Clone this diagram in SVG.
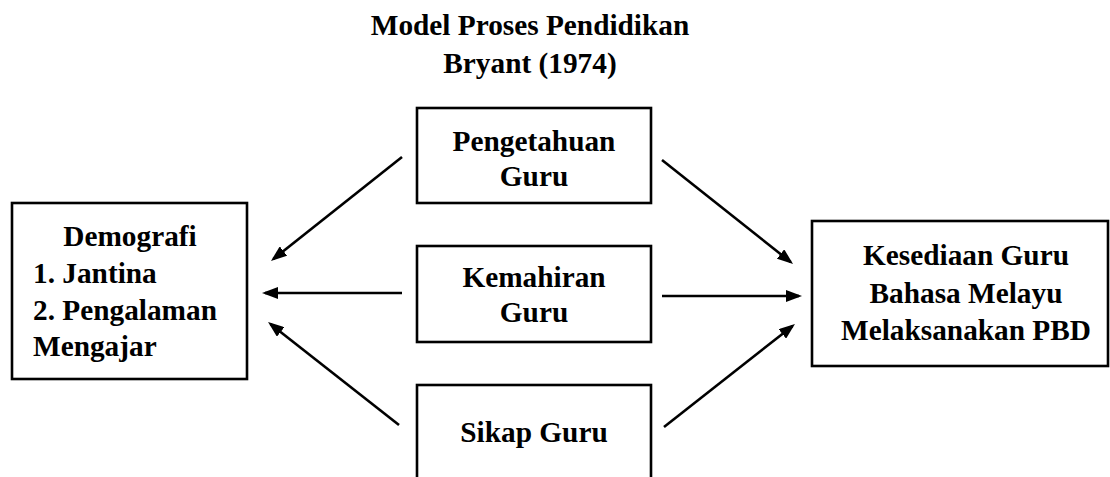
<svg xmlns="http://www.w3.org/2000/svg" width="1110" height="477" viewBox="0 0 1110 477">
<style>
  text { font-family: 'Liberation Serif', 'DejaVu Serif', serif; font-weight: 700; font-size: 29.3px; fill: #000; }
  .c { text-anchor: middle; }
  .box { fill: #fff; stroke: #000; stroke-width: 2.6; }
  .arrow { stroke: #000; stroke-width: 2.6; fill: none; marker-end: url(#ah); }
</style>
<defs>
  <marker id="ah" viewBox="0 0 16 12" refX="13" refY="6" markerWidth="16" markerHeight="12" markerUnits="userSpaceOnUse" orient="auto">
    <path d="M0,0 L16,6 L0,12 z" fill="#000"/>
  </marker>
</defs>
<rect width="1110" height="477" fill="#fff"/>
<g id="title">
  <text class="c" x="530" y="35">Model Proses Pendidikan</text>
  <text class="c" x="530" y="73">Bryant (1974)</text>
</g>
<g id="demografi">
  <rect class="box" x="12" y="203" width="235" height="176"/>
  <text class="c" x="130" y="246">Demografi</text>
  <text x="33" y="283">1. Jantina</text>
  <text x="33" y="319.5">2. Pengalaman</text>
  <text x="33" y="356">Mengajar</text>
</g>
<g id="pengetahuan">
  <rect class="box" x="417" y="108" width="234" height="95"/>
  <text class="c" x="534" y="150.5">Pengetahuan</text>
  <text class="c" x="534" y="185.5">Guru</text>
</g>
<g id="kemahiran">
  <rect class="box" x="417" y="246" width="234" height="96"/>
  <text class="c" x="534" y="286.5">Kemahiran</text>
  <text class="c" x="534" y="322">Guru</text>
</g>
<g id="sikap">
  <rect class="box" x="417" y="385" width="234" height="100"/>
  <text class="c" x="534" y="442">Sikap Guru</text>
</g>
<g id="kesediaan">
  <rect class="box" x="812" y="221" width="296" height="145"/>
  <text class="c" x="966" y="265">Kesediaan Guru</text>
  <text class="c" x="966" y="303">Bahasa Melayu</text>
  <text class="c" x="966" y="340">Melaksanakan PBD</text>
</g>
<g id="connectors">
  <line class="arrow" x1="402" y1="157" x2="273.3" y2="259.1"/>
  <line class="arrow" x1="402" y1="293" x2="265" y2="293"/>
  <line class="arrow" x1="399" y1="425" x2="270.4" y2="323.9"/>
  <line class="arrow" x1="662" y1="160" x2="790.7" y2="262.1"/>
  <line class="arrow" x1="662" y1="296" x2="799" y2="296"/>
  <line class="arrow" x1="664" y1="427" x2="792.6" y2="325.9"/>
</g>
</svg>
